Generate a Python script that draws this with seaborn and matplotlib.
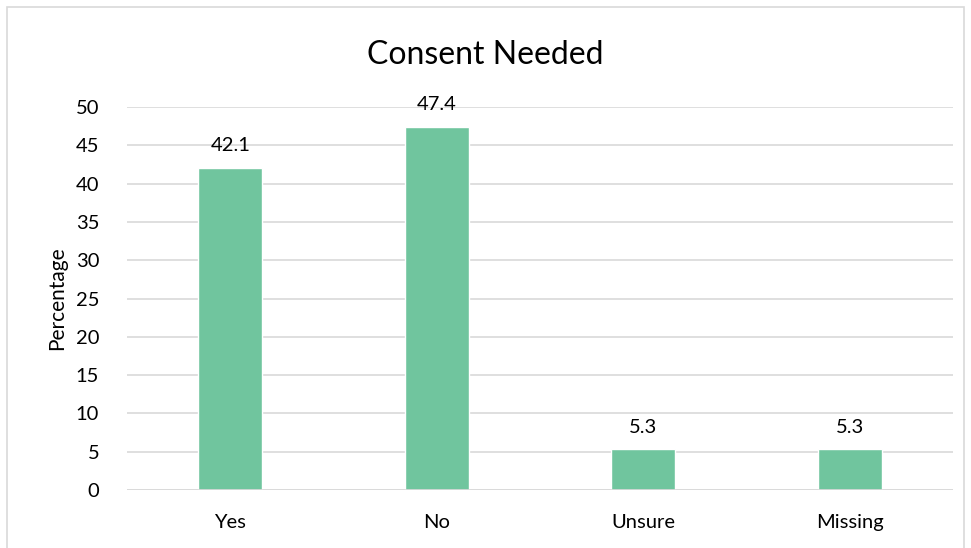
import matplotlib
matplotlib.use("Agg")
import matplotlib.pyplot as plt
import seaborn as sns
import pandas as pd

categories = ["Yes", "No", "Unsure", "Missing"]
values = [42.1, 47.4, 5.3, 5.3]
yticks = [0, 5, 10, 15, 20, 25, 30, 35, 40, 45, 50]

sns.set_theme(style="white")
plt.rcParams['font.family'] = ['Lato', 'DejaVu Sans']

df = pd.DataFrame({"cat": categories, "val": values})

fig = plt.figure(figsize=(9.71, 5.48), dpi=100)
ax = fig.add_axes([0.1308, 0.1058, 0.8507, 0.6989])
sns.barplot(data=df, x="cat", y="val", color="#70C59E", saturation=1, width=0.31, ax=ax, zorder=3)

ax.set_ylim(0, 50)
ax.set_yticks(yticks)
ax.set_xlim(-0.5, 3.5)
ax.grid(axis="y", color="#D9D9D9", linewidth=1.2, zorder=0)
for s in ax.spines.values():
    s.set_visible(False)
ax.axhline(0, color="#D9D9D9", linewidth=1.2, zorder=4)
ax.tick_params(axis="both", length=0, labelsize=14.5, colors="black")
ax.tick_params(axis="y", pad=20)
ax.tick_params(axis="x", pad=17)
ax.set_xlabel("")
ax.set_ylabel("Percentage", fontsize=15, color="black", labelpad=6)
for i, v in enumerate(values):
    ax.text(i, v + 1.8, f"{v:.1f}", ha="center", va="bottom", fontsize=14.5, color="black")

fig.text(0.5, 0.9, "Consent Needed", ha="center", va="center", fontsize=23, color="black")
fig.patches.append(plt.Rectangle((0.0075, -0.01), 0.985, 0.997, transform=fig.transFigure,
                                 fill=False, edgecolor="#D9D9D9", linewidth=1.2))
fig.savefig("out.png", dpi=100)
